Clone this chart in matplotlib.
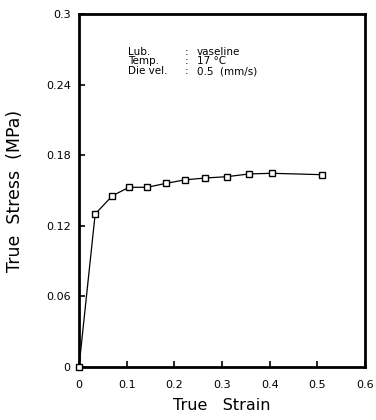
import matplotlib
matplotlib.use("Agg")
import matplotlib.pyplot as plt

# data
strain = [0.0, 0.034, 0.070, 0.105, 0.143, 0.182, 0.222, 0.265, 0.310, 0.356, 0.404, 0.510]
stress = [0.0, 0.130, 0.1455, 0.1527, 0.1527, 0.156, 0.159, 0.1606, 0.1617, 0.164, 0.1646, 0.1634]

xticks = [0, 0.1, 0.2, 0.3, 0.4, 0.5, 0.6]
xticklabels = ["0", "0.1", "0.2", "0.3", "0.4", "0.5", "0.6"]
yticks = [0, 0.06, 0.12, 0.18, 0.24, 0.3]
yticklabels = ["0", "0.06", "0.12", "0.18", "0.24", "0.3"]

info_keys = ["Lub.", "Temp.", "Die vel."]
info_vals = ["vaseline", "17 \u00b0C", "0.5  (mm/s)"]

plt.rcParams['font.family'] = ['DejaVu Sans']

fig = plt.figure(figsize=(3.76, 4.2), dpi=100)
ax = fig.add_axes([0.210, 0.126, 0.761, 0.841])

ax.plot(strain, stress, color='black', lw=0.9, marker='s', ms=5,
        mfc='white', mec='black', mew=1.0, clip_on=False, zorder=3)

ax.set_xlim(0, 0.6)
ax.set_ylim(0, 0.3)
ax.set_xticks(xticks)
ax.set_xticklabels(xticklabels)
ax.set_yticks(yticks)
ax.set_yticklabels(yticklabels)
ax.tick_params(direction='in', length=4, width=1.2, labelsize=8)
ax.tick_params(axis='x', pad=9)
ax.tick_params(axis='y', pad=6)

for s in ax.spines.values():
    s.set_linewidth(2)

ax.set_xlabel("True   Strain", fontsize=11.5, labelpad=6)
ax.set_ylabel("True  Stress  (MPa)", fontsize=12.5, labelpad=16)

for i, (k, v) in enumerate(zip(info_keys, info_vals)):
    y = 0.268 - i * 0.0083
    ax.text(0.103, y, k, fontsize=7.5, va='center', ha='left')
    ax.text(0.222, y, ":", fontsize=7.5, va='center', ha='left')
    ax.text(0.247, y, v, fontsize=7.5, va='center', ha='left')

fig.savefig("out.png", dpi=100)
